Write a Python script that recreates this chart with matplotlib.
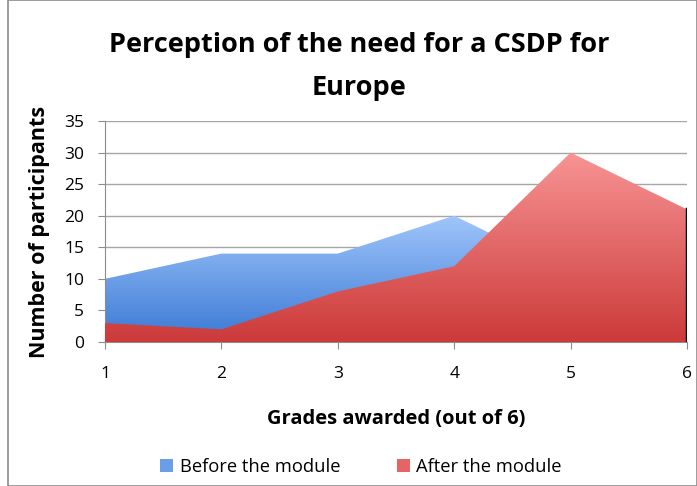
import numpy as np
import matplotlib.pyplot as plt
from matplotlib.colors import LinearSegmentedColormap
from matplotlib.patches import Rectangle

grades = [1, 2, 3, 4, 5, 6]
before = [10, 14, 14, 20, 11, 5]
after = [3, 2, 8, 12, 30, 21]
series_names = ['Before the module', 'After the module']

plt.rcParams['font.family'] = ['Open Sans', 'DejaVu Sans']

fig = plt.figure(figsize=(6.97, 4.86), dpi=100)
ax = fig.add_axes([0.1506, 0.2963, 0.8351, 0.4547])

blue_cmap = LinearSegmentedColormap.from_list('b', ['#3a78d4', '#a0c6fb'])
red_cmap = LinearSegmentedColormap.from_list('r', ['#cc3a3a', '#f89494'])


def gradient_area(x, y, cmap, z):
    poly = ax.fill_between(x, 0, y, facecolor='none', edgecolor='none', zorder=z)
    grad = np.linspace(0, 1, 256).reshape(-1, 1)
    im = ax.imshow(grad, cmap=cmap, origin='lower', aspect='auto',
                   extent=[min(x), max(x), 0, max(y)], zorder=z)
    path = poly.get_paths()[0]
    im.set_clip_path(path, transform=ax.transData)
    return poly


ax.grid(axis='y', color='#a6a6a6', linewidth=1)
ax.set_axisbelow(True)

gradient_area(grades, before, blue_cmap, 2)
gradient_area(grades, after, red_cmap, 3)
ax.plot([6, 6], [0, after[-1]], color='black', linewidth=2.5, zorder=4)

ax.set_xlim(1, 6)
ax.set_ylim(0, 35)
ax.set_xticks(grades)
ax.set_yticks(range(0, 36, 5))
for s in ['top', 'right']:
    ax.spines[s].set_visible(False)
for s in ['left', 'bottom']:
    ax.spines[s].set_color('#8c8c8c')
ax.tick_params(colors='#8c8c8c', labelcolor='black', labelsize=12.5, length=5)
ax.tick_params(axis='x', pad=12)
ax.tick_params(axis='y', pad=10)

fig.text(0.515, 0.907, 'Perception of the need for a CSDP for', fontsize=19.5,
         fontweight='bold', ha='center', va='center')
fig.text(0.515, 0.818, 'Europe', fontsize=19.5,
         fontweight='bold', ha='center', va='center')
ax.set_xlabel('Grades awarded (out of 6)', fontsize=14.5, fontweight='bold', labelpad=20)
ax.set_ylabel('Number of participants', fontsize=15.5, fontweight='bold', labelpad=10)

fig.patches.append(Rectangle((0.012, 0.0), 0.988, 1.0, transform=fig.transFigure,
                             fill=False, edgecolor='#8c8c8c', linewidth=1.2))

handles = [Rectangle((0, 0), 1, 1, facecolor='#6a9fe8'),
           Rectangle((0, 0), 1, 1, facecolor='#e56464')]
fig.legend(handles, series_names, loc='center', bbox_to_anchor=(0.518, 0.04),
           ncol=2, frameon=False, fontsize=13.2, handlelength=0.7, handleheight=0.7,
           columnspacing=3.1, handletextpad=0.35)

plt.savefig('out.png', dpi=100)
